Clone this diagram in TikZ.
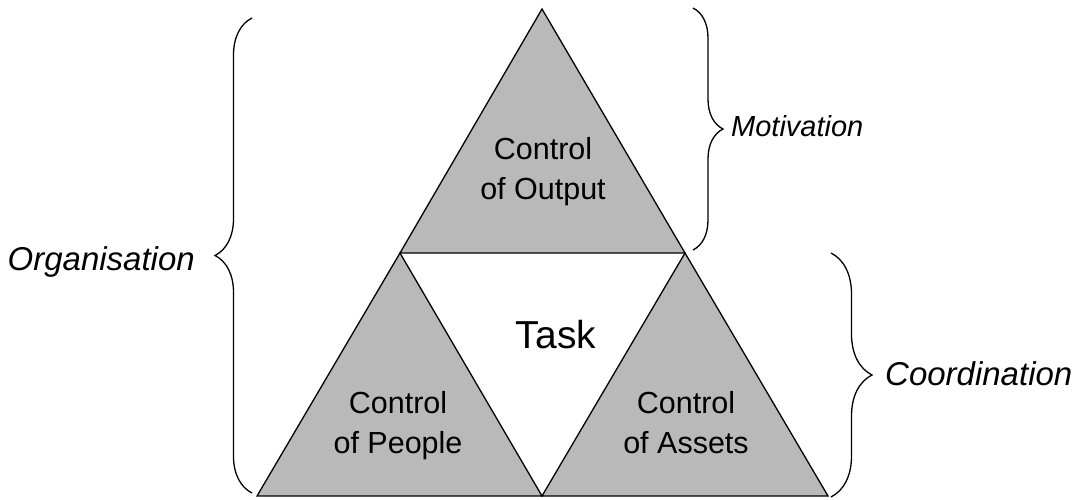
\documentclass[tikz,border=0pt]{standalone}
\usepackage{fontspec}
\setmainfont{Liberation Sans}
\usetikzlibrary{decorations.pathreplacing}
\definecolor{triFill}{RGB}{185,185,185}
\begin{document}
\begin{tikzpicture}[x=1pt,y=1pt,
  tri/.style={draw=black,line width=1.3pt,fill=triFill,line join=miter},
  bracket/.style={draw=black,line width=1.3pt,decorate,decoration={brace,amplitude=#1}},
  lbl/.style={inner sep=0pt,font=\fontsize{#1}{36}\selectfont\itshape},
  body/.style={inner sep=0pt,align=center,anchor=north,font=\fontsize{30.5}{40}\selectfont}]
\useasboundingbox (0,0) rectangle (1074,499);

% corner points of the three triangles
\coordinate (apex) at (542,490);
\coordinate (ml) at (400,246);
\coordinate (mr) at (685,246);
\coordinate (bl) at (257,3);
\coordinate (bm) at (542,3);
\coordinate (br) at (828,3);

\draw[tri] (apex) -- (mr) -- (ml) -- cycle;
\draw[tri] (ml) -- (bm) -- (bl) -- cycle;
\draw[tri] (mr) -- (br) -- (bm) -- cycle;

\node[body] (out) at (543,362) {Control\\of Output};
\node[body] (ppl) at (398,108) {Control\\of People};
\node[body] (ast) at (686,108) {Control\\of Assets};
\node[inner sep=0pt,font=\fontsize{39}{46}\selectfont,anchor=base] (task) at (556,151) {Task};

% braces
\coordinate (orgB) at (252,6);
\coordinate (orgT) at (252,481);
\coordinate (motT) at (693,491);
\coordinate (motB) at (693,249);
\coordinate (corT) at (831,246);
\coordinate (corB) at (831,2);
\draw[bracket=37] (orgB) -- (orgT);
\draw[bracket=30] (motT) -- (motB);
\draw[bracket=41] (corT) -- (corB);

\node[lbl=33,anchor=base east] (org) at (195,229) {Organisation};
\node[lbl=29,anchor=base west] (mot) at (731,362) {Motivation};
\node[lbl=33,anchor=base west] (cor) at (885,114) {Coordination};
\end{tikzpicture}
\end{document}
